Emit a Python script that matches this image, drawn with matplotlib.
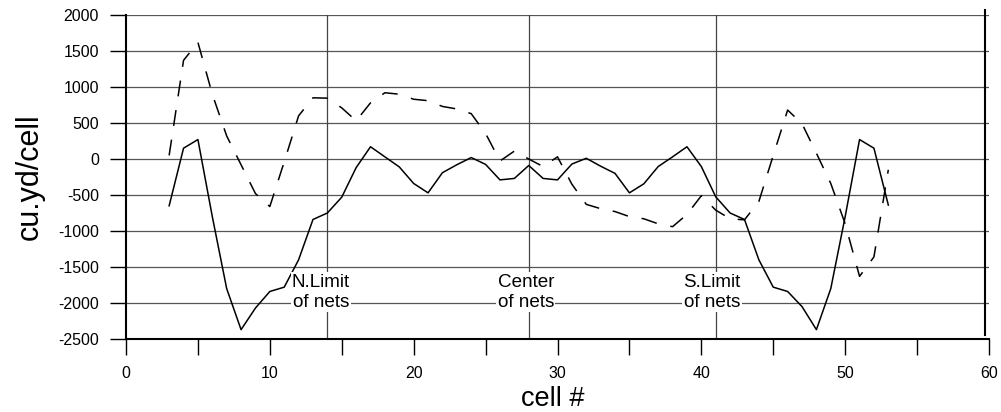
import matplotlib
matplotlib.use("Agg")
import matplotlib.pyplot as plt
from matplotlib.ticker import MultipleLocator

plt.rcParams['axes.unicode_minus'] = False
plt.rcParams['font.family'] = ['Liberation Sans', 'DejaVu Sans']
plt.rcParams['lines.scale_dashes'] = False

# ---- data ----
cells = list(range(3, 54))
solid_vals = [-650, 150, 270, -800, -1800, -2370, -2070, -1840, -1780, -1400,
              -840, -750, -530, -120, 170, 30, -110, -340, -470, -190,
              -80, 20, -75, -290, -270, -90, -270, -290, -70, 10,
              -100, -200, -470, -345, -105, 30, 170, -105, -525, -750,
              -840, -1400, -1780, -1840, -2050, -2370, -1800, -800, 270, 150,
              -640]
dashed_vals = [50, 1370, 1620, 900, 320, -80, -480, -660, -40, 600,
               850, 845, 710, 530, 780, 920, 900, 830, 810, 730,
               695, 630, 355, -28, 110, 0, -105, 30, -350, -630,
               -690, -730, -800, -830, -900, -940, -770, -510, -710, -830,
               -845, -590, 50, 680, 490, 80, -340, -900, -1630, -1360,
               -150]
ref_lines = [14, 28, 41]
ref_labels = ["N.Limit\nof nets", "Center\nof nets", "S.Limit\nof nets"]
ref_label_x = [13.56, 27.8, 40.73]
ref_label_y = -1850
yticks = [2000, 1500, 1000, 500, 0, -500, -1000, -1500, -2000, -2500]
ytick_labels = ["2000", "1500", "1000", "500", "0", "-500", "-1000", "-1500", "-2000", "-2500"]
xticks = [0, 10, 20, 30, 40, 50, 60]
xtick_labels = ["0", "10", "20", "30", "40", "50", "60"]

fig = plt.figure(figsize=(10.01, 4.12), dpi=100)
ax = fig.add_axes([126/1001, 1-339/412, 863/1001, 324/412])

ax.set_xlim(0, 60)
ax.set_ylim(-2500, 2000)

ax.plot(cells, solid_vals, color='black', lw=1.1, zorder=4)
ax.plot(cells, dashed_vals, color='black', lw=1.1, linestyle=(0, (11.5, 10)), zorder=4)

for xv in ref_lines:
    ax.axvline(xv, color='#444444', lw=0.9, zorder=2)

for xt, lab in zip(ref_label_x, ref_labels):
    ax.text(xt, ref_label_y, lab, ha='center', va='center', fontsize=13.6,
            linespacing=1.25, zorder=5,
            bbox=dict(fc='white', ec='none', pad=1.0))

ax.set_yticks(yticks)
ax.set_yticklabels(ytick_labels)
ax.set_xticks(xticks)
ax.set_xticklabels(xtick_labels)
ax.xaxis.set_minor_locator(MultipleLocator(5))

ax.yaxis.grid(True, color='#555555', lw=0.9, zorder=1)
ax.set_axisbelow(True)

for s in ['top', 'right']:
    ax.spines[s].set_visible(False)
for s in ['left', 'bottom']:
    ax.spines[s].set_linewidth(1.5)

ax.tick_params(axis='both', which='both', direction='out', length=11.5, width=1.0,
               pad=8, labelsize=11.5)

ax.plot([0.9955, 0.9955], [1.015, 0.012], transform=ax.transAxes, color='black',
        lw=1.5, clip_on=False)

ax.set_ylabel("cu.yd/cell", fontsize=22)
ax.yaxis.set_label_coords(-0.094, 0.5)
ax.set_xlabel("cell #", fontsize=19.5)
ax.xaxis.set_label_coords(0.494, -0.145)

fig.savefig("out.png", dpi=100)
